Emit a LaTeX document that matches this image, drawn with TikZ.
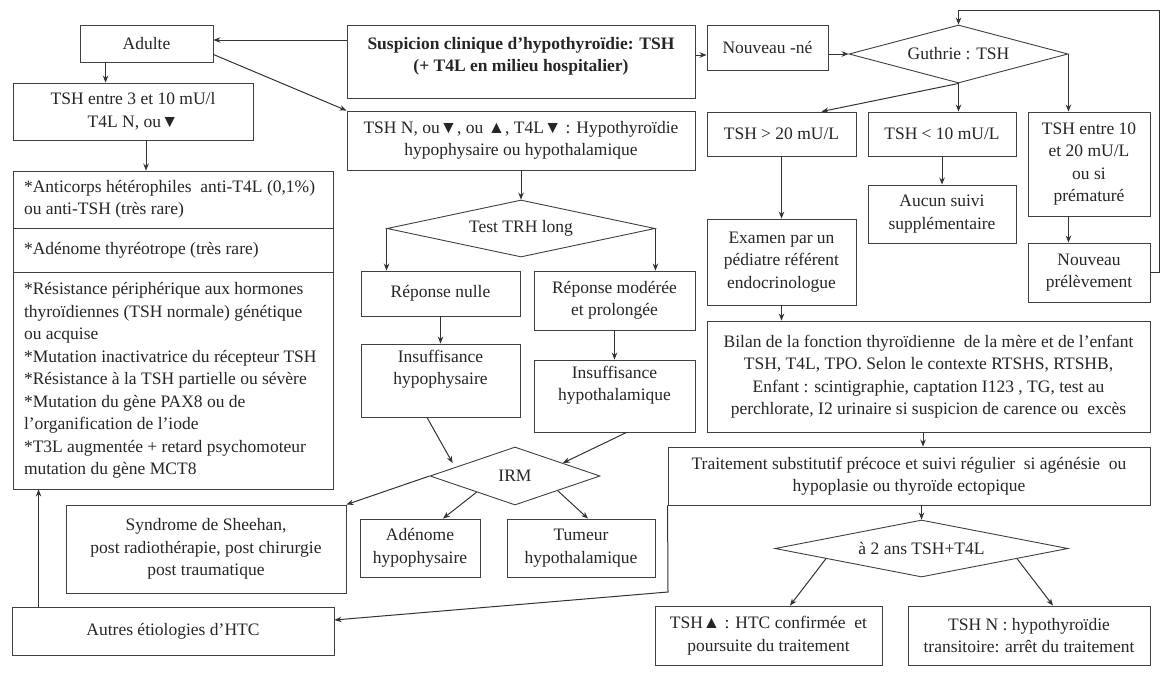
\documentclass[tikz,border=0pt]{standalone}
\usepackage{fontspec}
\setmainfont{Liberation Serif}
\usetikzlibrary{shapes.geometric,arrows.meta,calc}

\tikzset{
  box/.style={draw=black!75, line width=0.9pt, inner sep=0pt, fill=white, text=black!85},
  dia/.style={diamond, draw=black!75, line width=0.9pt, inner sep=0pt, shape aspect=5, text=black!85},
  arr/.style={draw=black!80, line width=1pt, -{Stealth[length=7pt,width=5.5pt]}},
}

% \bx[vertical position]{name}{x1}{y1}{x2}{y2}{text}: a framed box given by its corners
\newcommand\bx[7][c]{%
  \pgfmathsetmacro\bxw{#5-#3}\pgfmathsetmacro\bxh{#6-#4}%
  \node[box] (#2) at ({(#3+#5)/2},{(#4+#6)/2})
    {\begin{minipage}[c][\bxh pt][#1]{\bxw pt}\centering #7\end{minipage}};}
% \dm{name}{cx}{cy}{width}{height}{text}: a decision diamond
\newcommand\dm[6]{%
  \node[dia, minimum width=#4pt, minimum height=#5pt] (#1) at (#2,#3) {#6};}

\begin{document}
\begin{tikzpicture}[x=1pt,y=-1pt,font=\fontsize{17.5}{22.5}\selectfont]
\useasboundingbox (0,0) rectangle (1161,675);
\fill[white] (0,0) rectangle (1161,675);

% ---- adult branch
\bx{adulte}{80}{25}{213}{62}{Adulte}
\bx[t]{susp}{347}{25}{695}{98}{\vspace*{12pt}\bfseries Suspicion clinique d’hypothyroïdie: TSH\\(+ T4L en milieu hospitalier)}
\bx{tsh310}{13}{83}{253}{140}{TSH entre 3 et 10 mU/l\\T4L N, ou▼}
\bx{anti1}{13}{171}{333}{228}{\raggedright\leftskip=11pt *Anticorps hétérophiles\ \ anti-T4L (0,1\%)\\ou anti-TSH (très rare)}
\bx{anti2}{13}{228}{333}{272}{\raggedright\leftskip=11pt *Adénome thyréotrope (très rare)}
\bx{anti3}{13}{272}{333}{489}{\raggedright\leftskip=11pt *Résistance périphérique aux hormones\\thyroïdiennes (TSH normale) génétique\\ou acquise\\{}*Mutation inactivatrice du récepteur TSH\\{}*Résistance à la TSH partielle ou sévère\\{}*Mutation du gène PAX8 ou de\\l’organification de l’iode\\{}*T3L augmentée + retard psychomoteur\\mutation du gène MCT8}

% ---- central-hypothyroidism branch
\bx{tshN}{347}{111}{695}{170}{TSH N, ou▼, ou ▲, T4L▼ : Hypothyroïdie\\hypophysaire ou hypothalamique}
\dm{trh}{521}{228.5}{268}{57}{Test TRH long}
\bx{rnul}{361}{271}{520}{316}{Réponse nulle}
\bx{rmod}{534}{271}{695}{330}{Réponse modérée\\et prolongée}
\bx[t]{ihypo}{361}{344}{520}{417}{\vspace*{6pt}Insuffisance\\hypophysaire}
\bx[t]{ihyth}{534}{360}{695}{432}{\vspace*{6pt}Insuffisance\\hypothalamique}
\dm{irm}{515}{476}{170}{58}{IRM}
\bx{synd}{66}{505}{346}{593}{Syndrome de Sheehan,\\post radiothérapie, post chirurgie\\post traumatique}
\bx{aden}{360}{519}{480}{577}{Adénome\\hypophysaire}
\bx{tum}{507}{519}{655}{577}{Tumeur\\hypothalamique}
\bx{autres}{12}{607}{334}{655}{Autres étiologies d’HTC}

% ---- newborn branch
\bx{nne}{707}{25}{828}{70}{Nouveau -né}
\dm{guth}{958.5}{54}{219}{58}{Guthrie : TSH}
\bx{tsh20}{707}{112}{856}{156}{TSH > 20 mU/L}
\bx{tsh10}{868}{112}{1016}{156}{TSH < 10 mU/L}
\bx{tshE}{1028}{112}{1150}{216}{TSH entre 10\\et 20 mU/L\\ou si\\prématuré}
\bx{examen}{707}{219}{856}{305}{Examen par un\\pédiatre référent\\endocrinologue}
\bx{aucun}{868}{185}{1016}{243}{Aucun suivi\\supplémentaire}
\bx{prel}{1028}{243}{1150}{302}{Nouveau\\prélèvement}
\bx{bilan}{707}{321}{1150}{432}{Bilan de la fonction thyroïdienne\ \ de la mère et de l’enfant\\TSH, T4L, TPO. Selon le contexte RTSHS, RTSHB,\\Enfant : scintigraphie, captation I123 , TG, test au\\perchlorate, I2 urinaire si suspicion de carence ou\ \ excès}
\bx{trait}{668}{447}{1150}{505}{Traitement substitutif précoce et suivi régulier\ \ si agénésie\ \ ou\\hypoplasie ou thyroïde ectopique}
\dm{ans}{921.5}{548.5}{293}{57}{à 2 ans TSH+T4L}
\bx{conf}{655}{606}{882}{665}{TSH▲ : HTC confirmée\ \ et\\poursuite du traitement}
\bx{trans}{908}{606}{1150}{665}{TSH N : hypothyroïdie\\transitoire: arrêt du traitement}

% ---- connectors
\draw[arr] ([yshift=3.5pt]adulte.east -| susp.west) -- ([yshift=3.5pt]adulte.east);
\draw[arr] ([xshift=26pt]adulte.south west) -- ([xshift=26pt]adulte.south west |- tsh310.north);
\draw[arr] ([yshift=-11pt]adulte.east) -- (tshN.north west);
\draw[arr] ([xshift=13pt]tsh310.south) -- ([xshift=13pt]tsh310.south |- anti1.north);
\draw[arr] ([xshift=27pt]autres.north west) -- ([xshift=27pt]autres.north west |- anti3.south);

\draw[arr] (tshN.south) -- (trh.north);
\draw[arr] (trh.west) -- (trh.west |- rnul.north);
\draw[arr] (trh.east) -- (trh.east |- rmod.north);
\draw[arr] (rnul.south) -- (ihypo.north);
\draw[arr] (rmod.south) -- (ihyth.north);
\draw[arr] ([xshift=-13.5pt]ihypo.south) -- ([yshift=5pt]$(irm.west)!0.27!(irm.north)$);
\draw[arr] ([xshift=12pt]ihyth.south) -- ($(irm.north)!0.56!(irm.east)$);
\draw[arr] (irm.west) -- (synd.north east);
\draw[arr] ($(irm.west)!0.55!(irm.south)$) -- ([xshift=23pt]aden.north);
\draw[arr] ($(irm.south)!0.5!(irm.east)$) -- ([xshift=7pt]tum.north);

\draw[arr] ([yshift=-7.5pt]nne.west -| susp.east) -- ([yshift=-7.5pt]nne.west);
\draw[arr] (nne.east |- guth.west) -- (guth.west);
\draw[arr] (guth.south) -- (guth.south |- tsh10.north);
\draw[arr] (guth.south) -- ([xshift=40pt]tsh20.north);
\draw[arr] (guth.east) -- (guth.east |- tshE.north);
\draw[arr] (tsh20.south) -- (examen.north);
\draw[arr] (tsh10.south) -- (tsh10.south |- aucun.north);
\draw[arr] (guth.east |- tshE.south) -- (guth.east |- prel.north);
\coordinate (loopc) at (1159,10);
\draw[arr] (prel.east) -| (loopc) -| (guth.north);
\draw[arr] (examen.south) -- (examen.south |- bilan.north);
\draw[arr] ([xshift=-5.5pt]bilan.south) -- ([xshift=-5.5pt]bilan.south |- trait.north);
\draw[arr] (ans.north |- trait.south) -- (ans.north);
\draw[arr] ($(ans.south)!0.65!(ans.west)$) -- ([xshift=21.5pt]conf.north);
\draw[arr] ($(ans.south)!0.65!(ans.east)$) -- ([xshift=24pt]trans.north);
\coordinate (bend) at (668,592);
\draw[arr] (trait.south west) -- (bend) -- ([yshift=11pt]autres.east);
\end{tikzpicture}
\end{document}
